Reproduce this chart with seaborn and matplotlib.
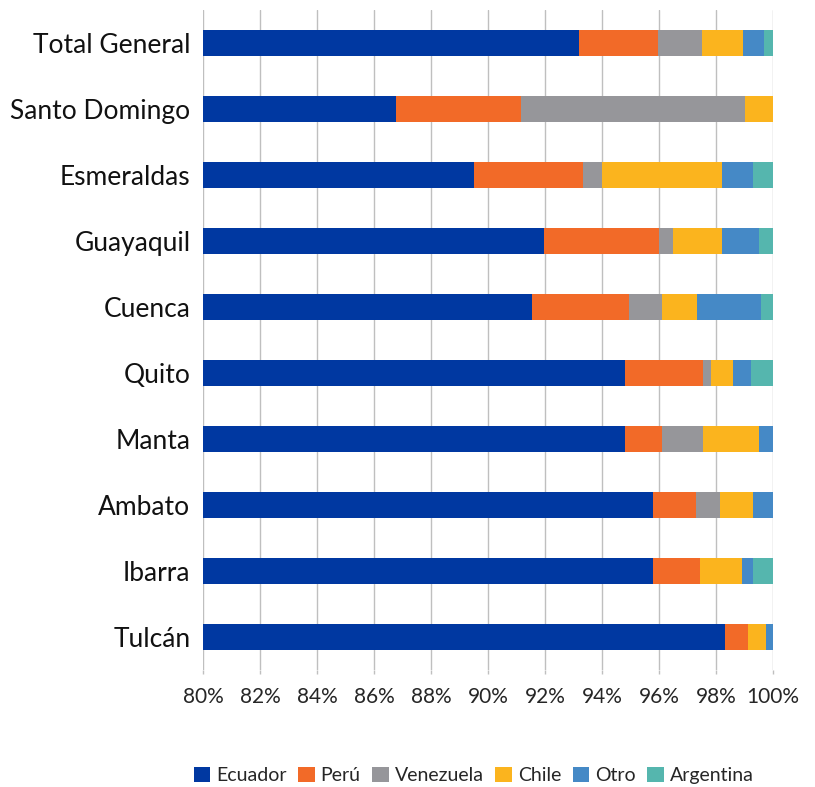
import numpy as np
import pandas as pd
import matplotlib
matplotlib.use("Agg")
import matplotlib.pyplot as plt
import seaborn as sns

ciudades = ["Total General", "Santo Domingo", "Esmeraldas", "Guayaquil", "Cuenca",
            "Quito", "Manta", "Ambato", "Ibarra", "Tulcán"]
paises = ["Ecuador", "Perú", "Venezuela", "Chile", "Otro", "Argentina"]

ecuador   = [93.20, 86.77, 89.50, 91.95, 91.53, 94.81, 94.81, 95.80, 95.80, 98.31]
peru      = [2.77, 4.40, 3.85, 4.04, 3.43, 2.73, 1.30, 1.50, 1.63, 0.81]
venezuela = [1.54, 7.84, 0.66, 0.50, 1.15, 0.28, 1.43, 0.84, 0.00, 0.00]
chile     = [1.43, 0.99, 4.20, 1.72, 1.23, 0.78, 1.96, 1.15, 1.47, 0.63]
otro      = [0.74, 0.00, 1.08, 1.29, 2.23, 0.62, 0.50, 0.71, 0.39, 0.25]
argentina = [0.32, 0.00, 0.71, 0.50, 0.43, 0.78, 0.00, 0.00, 0.71, 0.00]

colores = ["#0038A1", "#F26A28", "#96969A", "#FBB41E", "#4589C6", "#55B6AE"]

df = pd.DataFrame({"Ciudad": ciudades, "Ecuador": ecuador, "Perú": peru,
                   "Venezuela": venezuela, "Chile": chile, "Otro": otro,
                   "Argentina": argentina})
# cumulative ends for stacking (drawn back to front)
acum = df[paises].cumsum(axis=1)

sns.set_theme(style="white")
plt.rcParams["font.family"] = ["Lato", "DejaVu Sans"]

fig = plt.figure(figsize=(8.15, 7.87), dpi=100)
ax = fig.add_axes([203/815, 1 - 670/787, 570/815, 660/787])

for p, c in reversed(list(zip(paises, colores))):
    sns.barplot(x=acum[p], y=df["Ciudad"], color=c, width=0.4, ax=ax,
                orient="h", label=p, saturation=1, linewidth=0, zorder=3)

ax.set_xlim(80, 100)
ax.set_ylim(9.5, -0.5)
ticks = np.arange(80, 101, 2)
ax.set_xticks(ticks)
ax.set_xticklabels([f"{t}%" for t in ticks], fontsize=15, color="#262626")
ax.tick_params(axis="y", labelsize=19, labelcolor="#111111", length=0, pad=9)
ax.tick_params(axis="x", length=3, width=1, color="#BFBFBF", pad=9, bottom=True)
ax.grid(axis="x", color="#BFBFBF", linewidth=1, zorder=0)
for s in ax.spines.values():
    s.set_visible(False)
ax.set_xlabel("")
ax.set_ylabel("")

h, l = ax.get_legend_handles_labels()
orden = [l.index(p) for p in paises]
ax.legend([h[i] for i in orden], [l[i] for i in orden], loc="center",
          bbox_to_anchor=(0.475, -0.16), ncol=6, frameon=False, fontsize=14,
          handlelength=0.85, handleheight=0.85, handletextpad=0.3, columnspacing=0.6,
          labelcolor="#262626")

fig.savefig("out.png", dpi=100)
